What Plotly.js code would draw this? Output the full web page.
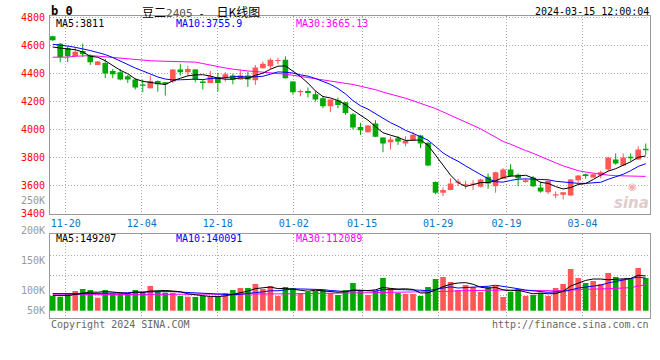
<!DOCTYPE html>
<html><head><meta charset="utf-8">
<script src="https://cdn.plot.ly/plotly-3.0.1.min.js"></script>
<style>html,body{margin:0;padding:0;background:#fff}#chart{width:660px;height:360px}</style>
</head><body><div id="chart"></div>
<script>
// ---------- data ----------
const dates = ['11-16','11-17','11-20','11-21','11-22','11-23','11-24','11-27','11-28','11-29','11-30','12-01','12-04','12-05','12-06','12-07','12-08','12-11','12-12','12-13','12-14','12-15','12-18','12-19','12-20','12-21','12-22','12-25','12-26','12-27','12-28','12-29','01-02','01-03','01-04','01-05','01-08','01-09','01-10','01-11','01-12','01-15','01-16','01-17','01-18','01-19','01-22','01-23','01-24','01-25','01-26','01-29','01-30','01-31','02-01','02-02','02-05','02-06','02-07','02-08','02-19','02-20','02-21','02-22','02-23','02-26','02-27','02-28','02-29','03-01','03-04','03-05','03-06','03-07','03-08','03-11','03-12','03-13','03-14','03-15'];
const open = [4667,4614,4583,4524,4562,4533,4462,4476,4419,4410,
  4381,4357,4319,4295,4348,4338,4343,4429,4410,4429,
  4343,4333,4376,4367,4386,4357,4386,4352,4438,4452,
  4490,4500,4343,4267,4276,4252,4224,4167,4210,4195,
  4110,4019,3981,4043,3943,3910,3938,3900,3924,3957,
  3905,3624,3548,3567,3619,3600,3605,3590,3662,3595,
  3648,3714,3676,3624,3657,3586,3552,3529,3533,3529,
  3638,3681,3657,3671,3714,3786,3743,3805,3786,3862];
const high = [4672,4619,4595,4590,4614,4538,4490,4505,4433,4433,
  4390,4367,4357,4386,4352,4340,4433,4471,4457,4433,
  4357,4419,4405,4410,4400,4424,4414,4462,4486,4510,
  4514,4524,4345,4286,4300,4276,4238,4216,4229,4197,
  4119,4048,4033,4067,3945,3948,3952,3952,3981,3962,
  3910,3629,3586,3652,3648,3633,3638,3648,3686,3697,
  3724,3752,3686,3648,3667,3629,3638,3557,3552,3645,
  3673,3686,3686,3705,3805,3829,3829,3829,3881,3900];
const low = [4633,4481,4483,4519,4519,4462,4460,4367,4367,4352,
  4333,4286,4267,4293,4271,4243,4333,4386,4381,4338,
  4286,4331,4271,4343,4324,4355,4305,4319,4436,4433,
  4467,4365,4252,4238,4229,4200,4152,4124,4152,4105,
  4000,3962,3979,3946,3838,3857,3890,3881,3919,3867,
  3738,3538,3524,3565,3595,3576,3567,3586,3576,3548,
  3646,3662,3595,3619,3590,3548,3538,3510,3500,3527,
  3619,3648,3655,3652,3700,3748,3741,3776,3781,3819];
const close = [4638,4519,4524,4557,4538,4481,4486,4400,4395,4357,
  4357,4300,4314,4348,4324,4324,4429,4410,4433,4357,
  4333,4381,4333,4395,4357,4386,4357,4443,4471,4500,
  4495,4367,4267,4271,4262,4214,4167,4214,4176,4119,
  4014,3995,4029,3948,3900,3929,3914,3919,3962,3900,
  3743,3548,3567,3614,3629,3605,3614,3643,3614,3695,
  3714,3667,3652,3638,3595,3557,3633,3538,3552,3643,
  3671,3667,3681,3695,3800,3757,3800,3795,3857,3852];
const volume = [63200,60300,74700,84700,93300,89000,56000,89000,74700,74700,
  74700,89000,77500,106200,84700,77500,77500,63200,60300,58900,
  63200,60300,60300,76100,89000,97600,97600,114800,93300,106200,
  63200,101900,97600,76100,80400,84700,89000,76100,67500,89000,
  119100,89000,67500,84700,140600,97600,76100,71800,71800,63200,
  101900,136300,144900,123400,89000,110500,101900,80400,101900,106200,
  58900,80400,93300,63200,67500,76100,63200,97600,114800,179300,
  140600,119100,127700,114800,162100,144900,136300,136300,183600,140600];
const ma5 = [4590,4581,4576,4571,4555,4524,4517,4492,4460,4424,
  4399,4362,4345,4335,4329,4322,4348,4367,4384,4391,
  4392,4383,4367,4360,4360,4370,4366,4388,4403,4431,
  4453,4455,4420,4380,4332,4276,4236,4226,4207,4178,
  4138,4104,4067,4021,3977,3960,3944,3922,3925,3925,
  3888,3814,3744,3674,3620,3593,3606,3621,3621,3634,
  3656,3667,3668,3673,3653,3622,3615,3592,3575,3585,
  3607,3614,3643,3671,3703,3720,3747,3769,3802,3811];
const ma10 = [4610,4605,4597,4588,4578,4565,4551,4536,4515,4490,
  4461,4440,4419,4398,4376,4361,4355,4356,4360,4360,
  4357,4365,4367,4372,4375,4381,4374,4378,4381,4396,
  4412,4410,4404,4391,4382,4365,4346,4323,4293,4255,
  4207,4170,4146,4114,4078,4049,4024,3994,3973,3951,
  3924,3879,3833,3800,3773,3740,3710,3683,3648,3627,
  3624,3636,3645,3647,3644,3639,3641,3630,3624,3619,
  3615,3615,3618,3623,3644,3664,3680,3706,3736,3755.9];
const ma30 = [4517,4515,4518,4524,4528,4529,4525,4520,4514,4507,
  4502,4497,4494,4492,4490,4488,4487,4486,4485,4482,
  4472,4460,4450,4440,4432,4424,4419,4415,4411,4406,
  4401,4396,4388,4380,4371,4362,4356,4348,4340,4332,
  4322,4310,4298,4285,4268,4254,4240,4224,4206,4188,
  4170,4150,4126,4102,4080,4058,4030,4005,3975,3945,
  3915,3895,3870,3850,3830,3806,3786,3762,3740,3722,
  3706,3696,3688,3680,3674,3670,3667,3667,3666,3665.13];
const vma5 = [66000,64000,65000,70000,75200,80400,79500,82400,80400,76700,
  73800,80400,78100,84400,86400,87000,84700,81800,72600,67500,
  64600,61200,60600,63800,69800,76700,84100,95000,98500,101900,
  95000,95900,92400,89000,83800,88100,85600,81300,79500,81300,
  88100,88100,86400,89900,100200,95900,93300,94200,91600,76100,
  77000,89000,103600,113900,119100,120800,113900,101000,96700,100200,
  89900,85600,88100,80400,72700,76100,72700,73500,83800,106200,
  119100,130300,136300,136300,132900,133700,137200,138900,152600,149207];
const vma10 = [74000,73000,72000,72000,73000,74000,74000,75000,75000,76000,
  77100,80000,80300,82400,81600,80400,82600,80000,78500,77000,
  75800,72900,71200,68200,68600,70600,72700,77800,81100,85800,
  85800,90000,93700,93700,92900,91600,90700,86900,84300,82600,
  88100,86900,83800,84700,90700,92000,90700,90300,90700,88100,
  86400,91200,98900,102800,97600,98900,101500,102300,105300,109600,
  105300,99800,94600,88600,86400,83000,79100,80800,82100,89400,
  97600,101500,104900,110100,119500,126400,133700,137600,144500,140091];
const vma30 = [71000,70500,70000,69700,69700,69700,69700,69700,69700,69700,
  69700,69700,69700,69700,69700,69700,69700,69700,69700,69700,
  69500,69500,69500,69500,69500,69500,69500,71000,71200,71500,
  71800,72500,72800,73000,73300,73600,74200,74600,75000,75400,
  76500,77000,77400,77800,78500,79000,79300,79600,79800,80000,
  80200,81500,82500,83500,85500,86500,87500,88000,88500,89000,
  89000,89000,88500,86000,85000,84700,84700,85500,87500,89500,
  92000,93000,93300,93500,95500,97000,97600,99000,106000,112089];
const tickDates = ['11-20','12-04','12-18','01-02','01-15','01-29','02-19','03-04'];
const priceTicks = [3400,3600,3800,4000,4200,4400,4600,4800];
const volLabels = ['250K','200K','150K','100K','50K'];
const titleName = '豆二', titleCode = '2405', titleKind = '日K线图';
const stamp = '2024-03-15 12:00:04';

// ---------- styling / layout ----------
const UP = '#ff5757', DOWN = '#00a800';
const MONO = 'DejaVu Sans Mono, Liberation Mono, monospace';
const W = 660, H = 360, L = 50, R = 10, T = 16, B = 42;
const pw = W - L - R, ph = H - T - B;
const fx = p => (p - L) / pw, fy = p => (H - B - p) / ph;

const x = dates.map((d, i) => i);
const isUp = x.map(i => close[i] >= open[i]);
const colors = isUp.map(u => u ? UP : DOWN);

function wicks(up) {
  const wx = [], wy = [];
  x.forEach(i => { if (isUp[i] === up) { wx.push(i, i, null); wy.push(low[i], high[i], null); } });
  return {type:'scatter', mode:'lines', x:wx, y:wy, xaxis:'x', yaxis:'y',
    line:{color: up ? UP : DOWN, width:1}, hoverinfo:'skip', connectgaps:false};
}
const bodies = {type:'bar', x:x, xaxis:'x', yaxis:'y',
  base: x.map(i => Math.min(open[i], close[i])),
  y: x.map(i => Math.max(Math.abs(close[i] - open[i]), 8)),
  width: 0.75, marker:{color:colors, line:{width:0}}, hoverinfo:'skip'};
const line = (arr, c, ax) => ({type:'scatter', mode:'lines', x:x, y:arr, xaxis: ax==='y'?'x':'x2', yaxis:ax,
  line:{color:c, width:1}, hoverinfo:'skip'});
const vol = {type:'bar', x:x, y:volume, xaxis:'x2', yaxis:'y2', width:0.75,
  marker:{color:colors, line:{width:0}}, hoverinfo:'skip'};

// grid positions (pixel spacing of the original grid differs slightly from candle spacing)
const gridPos = d => { const i = dates.indexOf(d); return (13 + (i - 2) * 7.6) / 7.5063; };
const tickvals = tickDates.map(gridPos);

const gridStyle = {showgrid:true, gridcolor:'#aaaaaa', gridwidth:1, griddash:'1px,2px',
  showline:true, mirror:true, linecolor:'#999999', linewidth:1, zeroline:false, ticks:'', fixedrange:true};

const ann = (text, xp, yp, color, opts) => Object.assign({text:text, xref:'paper', yref:'paper',
  x:fx(xp), y:fy(yp), xanchor:'left', yanchor:'middle', showarrow:false,
  font:{family:MONO, size:10, color:color}}, opts || {});

const volLabelY = [200.7, 230.5, 260.3, 290.5, 310.7];
const annotations = [
  ann('<b>b\u00a00</b>', 49, 11.5, '#000', {font:{family:MONO, size:12, color:'#000'}}),
  ann(titleName + '<span style="font-family:DejaVu Sans Mono;font-size:11px;fill:#555">' + titleCode + '</span>' +
      '<span style="font-family:DejaVu Sans Mono;font-size:10px">\u00a0-\u00a0\u00a0</span>' + titleKind,
      140, 11, '#000', {font:{family:'Noto Sans CJK SC, sans-serif', size:12, color:'#000'}}),
  ann(stamp, 651, 11.5, '#000', {xanchor:'right'}),
  ann('MA5:' + ma5[ma5.length-1], 54, 23, '#000'),
  ann('MA10:' + ma10[ma10.length-1], 174, 23, '#0000ff'),
  ann('MA30:' + ma30[ma30.length-1], 294, 23, '#ff00ff'),
  ann('MA5:' + vma5[vma5.length-1], 54, 238.5, '#000'),
  ann('MA10:' + vma10[vma10.length-1], 174, 238.5, '#0000ff'),
  ann('MA30:' + vma30[vma30.length-1], 294, 238.5, '#ff00ff'),
  ann('Copyright 2024 SINA.COM', 49, 324, '#666'),
  ann('http://finance.sina.com.cn', 651, 324, '#666', {xanchor:'right'}),
  ann('<b><i>sina</i></b>', 651, 203, '#e2caca', {xanchor:'right', font:{family:'DejaVu Sans, sans-serif', size:15, color:'#e0cccc'}}),
  ann('◉', 632, 186, '#f2a8a8', {xanchor:'center', font:{family:'DejaVu Sans, sans-serif', size:10, color:'#f2aaaa'}})
].concat(volLabels.map((t, k) => ann(t, 47, volLabelY[k], '#999', {xanchor:'right'})));

const layout = {
  width:W, height:H, margin:{l:L, r:R, t:T, b:B},
  paper_bgcolor:'#fff', plot_bgcolor:'#fff', showlegend:false, hovermode:false,
  font:{family:MONO, size:10, color:'#000'},
  xaxis: Object.assign({}, gridStyle, {domain:[0,1], anchor:'y', range:[-0.36, 79.57],
    tickmode:'array', tickvals:tickvals, ticktext:tickDates,
    tickfont:{family:MONO, size:10, color:'#0a74c4'}}),
  yaxis: Object.assign({}, gridStyle, {domain:[0.346,1], anchor:'x', range:[3399.5, 4812],
    tickmode:'array', tickvals:priceTicks, ticktext:priceTicks.map(String), ticklabelstandoff:2,
    tickfont:{family:MONO, size:10, color:'#ff0000'}}),
  xaxis2: Object.assign({}, gridStyle, {domain:[0,1], anchor:'y2', matches:'x', range:[-0.36, 79.57],
    tickmode:'array', tickvals:tickvals, showticklabels:false}),
  yaxis2: Object.assign({}, gridStyle, {domain:[0,0.277], anchor:'x2', range:[-31400, 328500],
    tickmode:'array', tickvals:[66000,152000,238000], showticklabels:false}),
  annotations: annotations
};

const data = [wicks(true), wicks(false), bodies,
  line(ma30, '#ff00ff', 'y'), line(ma10, '#0000ff', 'y'), line(ma5, '#000000', 'y'),
  vol, line(vma30, '#ff00ff', 'y2'), line(vma10, '#0000ff', 'y2'), line(vma5, '#000000', 'y2')];

Plotly.newPlot('chart', data, layout, {staticPlot:true, displayModeBar:false});
</script>
</body></html>
